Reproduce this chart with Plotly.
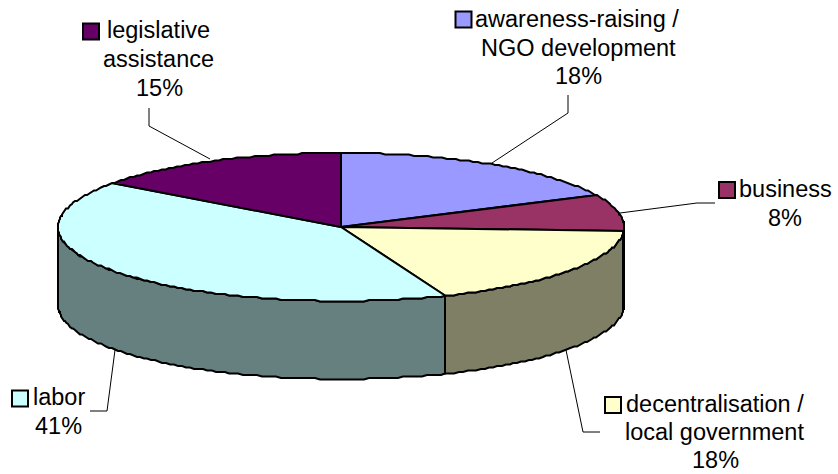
import numpy as np
import plotly.graph_objects as go

# Share of funding per area, clockwise from 12 o'clock
categories = ["awareness-raising / NGO development", "business",
              "decentralisation / local government", "labor", "legislative assistance"]
shares = [18, 8, 18, 41, 15]
top_colors = ["#9999FF", "#993366", "#FFFFCC", "#CCFFFF", "#660066"]
side_colors = ["#4D4D80", "#4D1A33", "#7F7F66", "#667F7F", "#330033"]

# Disc geometry in page pixels
CX, CY, RX, RY, DEPTH = 341, 227, 283, 74, 78
W, H = 838, 474


def rim(a_deg, drop=0.0):
    """Points on the elliptical rim for clockwise angles measured from the top."""
    a = np.radians(a_deg)
    return CX + RX * np.sin(a), CY - RY * np.cos(a) + drop


def stepped(x, y):
    """Snap rim points to a coarse raster so the edge has its printed stair-step look."""
    return np.round(x), np.round(y / 1.5) * 1.5


fig = go.Figure()
edges = np.concatenate([[0], np.cumsum(shares)]) * 3.6

# Side wall: only the front half of the disc (90 to 270 degrees) is visible
for i in range(len(shares)):
    a0, a1 = max(edges[i], 90), min(edges[i + 1], 270)
    if a1 <= a0:
        continue
    arc = np.linspace(a0, a1, int((a1 - a0) * 1.0) + 2)
    tx, ty = stepped(*rim(arc))
    bx, by = stepped(*rim(arc, DEPTH))
    fig.add_trace(go.Scatter(
        x=np.concatenate([tx, bx[::-1], tx[:1]]),
        y=np.concatenate([ty, by[::-1], ty[:1]]),
        mode="lines", fill="toself", fillcolor=side_colors[i],
        line=dict(color="#000000", width=2), hoverinfo="skip"))

# Upper face of the disc
for i in range(len(shares)):
    arc = np.linspace(edges[i], edges[i + 1], int(shares[i] * 3.6) + 2)
    ex, ey = stepped(*rim(arc))
    fig.add_trace(go.Scatter(
        x=np.concatenate([[CX], ex, [CX]]),
        y=np.concatenate([[CY], ey, [CY]]),
        mode="lines", fill="toself", fillcolor=top_colors[i],
        line=dict(color="#000000", width=2), hoverinfo="skip"))

# Leader lines from the disc to each label
leaders = [
    ([568, 568, 492], [95, 113, 163]),
    ([620, 697, 715], [213, 203, 203]),
    ([566, 583, 600], [350, 432, 432]),
    ([115, 107, 90], [350, 411, 411]),
    ([149, 149, 210], [108, 126, 159]),
]
for lx, ly in leaders:
    fig.add_trace(go.Scatter(x=lx, y=ly, mode="lines",
                             line=dict(color="#000000", width=1), hoverinfo="skip"))

# Colour keys beside the labels
key_x = [463.5, 727, 613, 20, 91]
key_y = [19.5, 190, 405, 398.5, 31.5]
fig.add_trace(go.Scatter(
    x=key_x, y=key_y, mode="markers", hoverinfo="skip",
    marker=dict(symbol="square", size=16, color=top_colors,
                line=dict(color="#000000", width=2))))

# Label text, one entry per printed line
label_lines = [
    (577, 19, "awareness-raising /"), (578, 48, "NGO development"), (578, 76, "18%"),
    (785, 189, "business"), (785, 218, "8%"),
    (715, 404, "decentralisation /"), (714, 432, "local government"), (715, 460, "18%"),
    (58.5, 397, "labor"), (58, 426, "41%"),
    (158, 30, "legislative"), (158, 59, "assistance"), (159, 88, "15%"),
]
annotations = [
    dict(x=x, y=y, text=t, showarrow=False, xanchor="center", yanchor="middle",
         font=dict(family="Liberation Sans, Arial, sans-serif", size=23.5, color="#000000"))
    for x, y, t in label_lines
]

fig.update_layout(
    width=W, height=H, margin=dict(l=0, r=0, t=0, b=0),
    paper_bgcolor="#FFFFFF", plot_bgcolor="#FFFFFF", showlegend=False,
    xaxis=dict(range=[0, W], visible=False, fixedrange=True),
    yaxis=dict(range=[H, 0], visible=False, fixedrange=True),
    annotations=annotations,
)
fig.write_html("out.html", config=dict(displayModeBar=False))
